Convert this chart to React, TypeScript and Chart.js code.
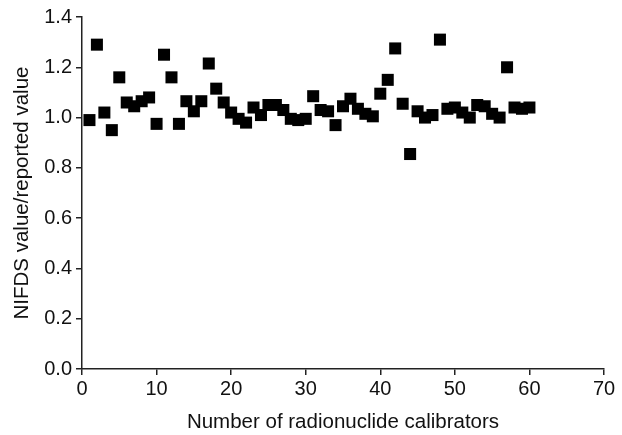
import React, { useEffect, useRef } from "react";
import { Chart, registerables } from "chart.js";

Chart.register(...registerables);

const calibrators: number[] = Array.from({ length: 60 }, (_, i) => i + 1);
const ratios: number[] = [
  0.99, 1.29, 1.02, 0.95, 1.16, 1.06, 1.045, 1.065, 1.08, 0.975,
  1.25, 1.16, 0.975, 1.065, 1.025, 1.065, 1.215, 1.115, 1.06, 1.02,
  0.995, 0.98, 1.04, 1.01, 1.05, 1.05, 1.03, 0.995, 0.99, 0.995,
  1.085, 1.03, 1.025, 0.97, 1.045, 1.075, 1.035, 1.015, 1.005, 1.095,
  1.15, 1.275, 1.055, 0.855, 1.025, 1.0, 1.01, 1.31, 1.035, 1.04,
  1.02, 1.0, 1.05, 1.045, 1.015, 1.0, 1.2, 1.04, 1.035, 1.04,
];
const xTitle = "Number of radionuclide calibrators";
const yTitle = "NIFDS value/reported value";

export default function App() {
  const ref = useRef<HTMLCanvasElement | null>(null);
  useEffect(() => {
    if (!ref.current) return;
    const tickFont = { family: "'Liberation Sans', Arial, sans-serif", size: 20 };
    const titleFont = { family: "'Liberation Sans', Arial, sans-serif", size: 20.5 };
    const chart = new Chart(ref.current, {
      type: "scatter",
      data: {
        datasets: [
          {
            data: calibrators.map((x, i) => ({ x, y: ratios[i] })),
            pointStyle: "rect",
            pointRadius: 8.5,
            backgroundColor: "#000",
            borderColor: "#000",
            borderWidth: 0,
          },
        ],
      },
      options: {
        animation: false,
        responsive: true,
        maintainAspectRatio: false,
        layout: { padding: { top: 17, right: 18, left: 0, bottom: 0 } },
        plugins: { legend: { display: false }, tooltip: { enabled: false } },
        scales: {
          x: {
            type: "linear",
            min: 0,
            max: 70,
            ticks: { stepSize: 10, color: "#111", font: tickFont, padding: 2 },
            grid: { drawOnChartArea: false, drawTicks: true, tickLength: 6, color: "#222", lineWidth: 1.5 },
            border: { display: true, color: "#222", width: 1.5 },
            title: { display: true, text: xTitle, color: "#111", font: titleFont, padding: { top: 4, bottom: 0 } },
            afterFit: (s: any) => { s.height = 66; },
          },
          y: {
            min: 0,
            max: 1.4,
            ticks: { stepSize: 0.2, color: "#111", font: tickFont, padding: 4, callback: (v: any) => Number(v).toFixed(1) },
            grid: { drawOnChartArea: false, drawTicks: true, tickLength: 6, color: "#222", lineWidth: 1.5 },
            border: { display: true, color: "#222", width: 1.5 },
            title: { display: true, text: yTitle, color: "#111", font: titleFont, padding: { top: 10, bottom: 0 } },
            afterFit: (s: any) => { s.width = 82; },
          },
        },
      },
    });
    return () => chart.destroy();
  }, []);
  return (
    <div style={{ position: "absolute", left: 0, top: 0, width: 622, height: 435, background: "#fff" }}>
      <canvas ref={ref} />
    </div>
  );
}
